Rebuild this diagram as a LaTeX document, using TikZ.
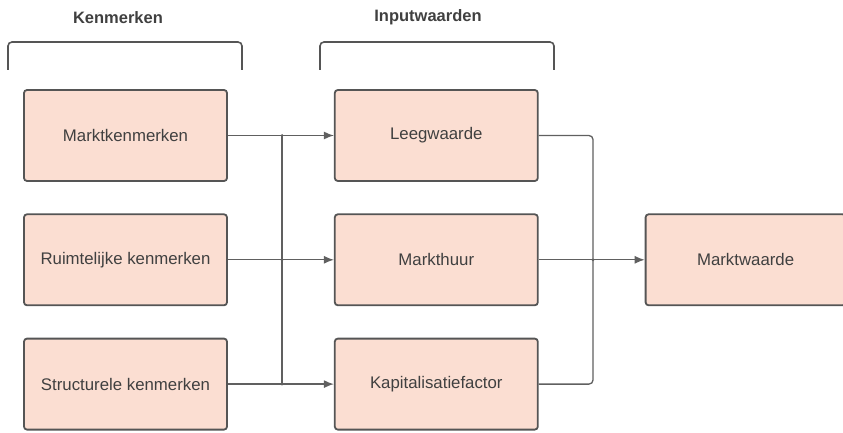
\documentclass[tikz,border=0pt]{standalone}
\usepackage{fontspec}
\setmainfont{Liberation Sans}
\usetikzlibrary{arrows.meta,positioning}

\definecolor{boxfill}{HTML}{FBDED2}
\definecolor{boxline}{HTML}{555555}
\definecolor{wirecol}{HTML}{606060}
\definecolor{txtcol}{HTML}{404040}

\begin{document}
\begin{tikzpicture}[x=1pt,y=1pt,
  box/.style={draw=boxline,line width=1.8pt,fill=boxfill,rounded corners=3pt,
    minimum width=203pt,minimum height=91pt,text=txtcol,
    font=\fontsize{16.8}{20}\selectfont},
  title/.style={text=txtcol,font=\bfseries\fontsize{16.5}{19}\selectfont},
  bracket/.style={draw=boxline,line width=1.6pt,rounded corners=4pt},
  wire/.style={draw=wirecol,line width=1.3pt},
  arr/.style={wire,-{Latex[length=10pt,width=8pt]}},
  dot/.style={circle,fill=wirecol,inner sep=0pt,minimum size=3pt},
  node distance=31.5pt and 106pt]

\useasboundingbox (0,0) rectangle (843,-433);

% kenmerken
\node[box] (mk) at (125.5,-135.5) {Marktkenmerken};
\node[box] (rk) [below=of mk] {Ruimtelijke kenmerken};
\node[box] (sk) [below=of rk] {Structurele kenmerken};

% inputwaarden
\node[box] (lw) [right=of mk] {Leegwaarde};
\node[box] (mh) [right=of rk] {Markthuur};
\node[box] (kf) [right=of sk] {Kapitalisatiefactor};

\node[box,minimum width=200pt] (mw) [right=of mh] {Marktwaarde};

% koppen en haken
\node[title] (tk) at (118,-18) {Kenmerken};
\node[title] (ti) at (428,-17) {Inputwaarden};
\draw[bracket] (8,-70) -- (8,-42) -- (242,-42) -- (242,-70);
\draw[bracket] (320,-70) -- (320,-42) -- (554,-42) -- (554,-70);

% links
\coordinate (j1) at (282,-135.5);
\coordinate (j2) at (j1 |- rk.east);
\coordinate (j3) at (j1 |- sk.east);
\draw[arr] (mk) -- (lw);
\draw[arr] (rk) -- (mh);
\draw[arr] (sk) -- (kf);
\draw[wire] (j1) -- (j3);
\node[dot] at (j1) {};
\node[dot] at (j2) {};
\node[dot] at (j3) {};

% rechts
\coordinate (jx) at (593,0);
\coordinate (jr) at (jx |- mh.east);
\draw[wire,rounded corners=4pt] (lw.east) -| (jr) |- (kf.east);
\draw[arr] (mh) -- (mw);
\node[dot] at (jr) {};

\end{tikzpicture}
\end{document}
